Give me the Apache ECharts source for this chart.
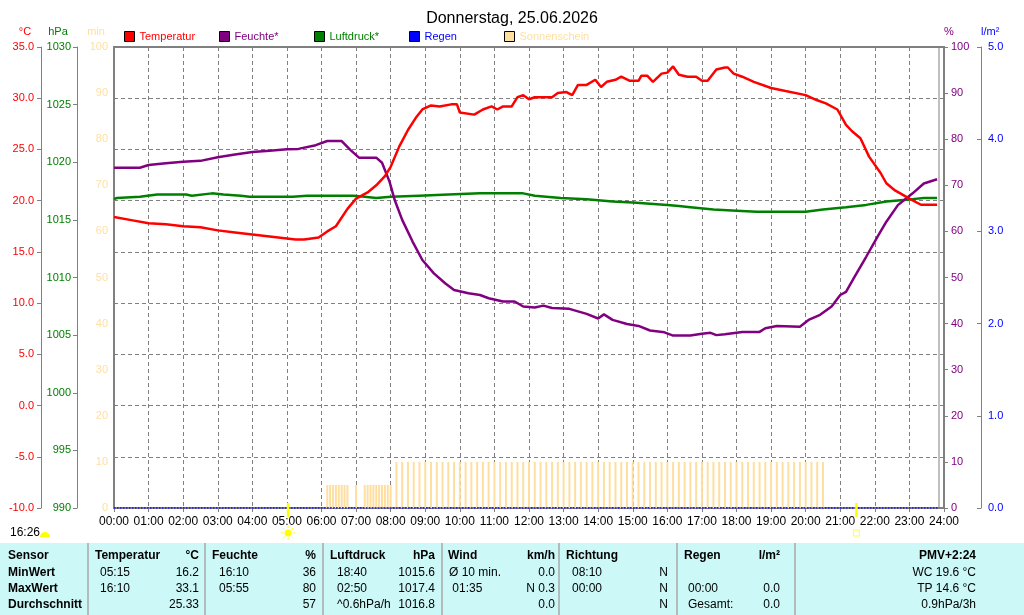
<!DOCTYPE html>
<html>
<head>
    <meta charset="utf-8">
    <title>Donnerstag, 25.06.2026</title>
    <style type="text/css">
        html, body {
            margin: 0;
            padding: 0;
            background: #fff;
        }
        #main {
            width: 1024px;
            height: 615px;
        }
    </style>
    <script src="https://cdn.jsdelivr.net/npm/echarts@6/dist/echarts.min.js"></script>
</head>
<body>
<div id="main"></div>
<script type="text/javascript">
    var tempTimes = ['00:00','00:30','01:00','01:30','02:00','02:30','03:00','03:30','04:00','04:30',
        '05:00','05:15','05:30','05:55','06:10','06:25','06:45','07:00','07:20','07:35','07:50','08:00',
        '08:15','08:30','08:45','08:55','09:10','09:25','09:45','09:55','10:00','10:25','10:40','10:55',
        '11:05','11:15','11:30','11:40','11:50','12:00','12:10','12:40','12:50','13:05','13:15','13:25',
        '13:40','13:55','14:05','14:15','14:30','14:40','14:55','15:10','15:15','15:25','15:35','15:50',
        '16:00','16:10','16:20','16:35','16:50','17:00','17:10','17:25','17:40','17:45','17:55','18:10',
        '18:30','19:00','19:25','20:00','20:20','20:35','20:55','21:10','21:20','21:35','21:50','22:10',
        '22:20','22:35','23:00','23:20','23:48'];
    var tempValues = [18.4,18.1,17.8,17.7,17.5,17.4,17.1,16.9,16.7,16.5,
        16.3,16.2,16.2,16.4,17.0,17.5,19.2,20.2,20.8,21.5,22.4,23.3,
        25.3,26.9,28.2,28.9,29.3,29.2,29.4,29.4,28.6,28.4,28.9,29.2,
        28.9,29.2,29.2,30.1,30.3,29.9,30.1,30.1,30.5,30.6,30.3,31.3,
        31.3,31.8,31.1,31.6,31.8,32.1,31.7,31.7,32.2,32.2,31.6,32.4,
        32.5,33.1,32.3,32.1,32.1,31.7,31.7,32.8,33.0,33.0,32.4,32.1,
        31.6,31.0,30.7,30.3,29.8,29.5,28.9,27.4,26.8,26.1,24.3,22.7,
        21.7,21.0,20.2,19.6,19.6];

    var humTimes = ['00:00','00:45','01:00','01:30','02:00','02:30','03:00','03:30','04:00','04:30',
        '05:00','05:20','05:50','06:10','06:35','06:50','07:05','07:35','07:45','07:58','08:07','08:20',
        '08:38','08:55','09:15','09:35','09:50','10:15','10:35','10:50','11:15','11:35','11:50','12:10',
        '12:25','12:40','13:10','13:40','14:00','14:10','14:25','14:50','15:10','15:30','15:55','16:10',
        '16:40','17:00','17:15','17:25','17:40','18:10','18:40','18:50','19:10','19:50','20:05','20:25',
        '20:45','21:00','21:10','21:25','21:45','22:05','22:20','22:40','23:05','23:25','23:48'];
    var humValues = [73.8,73.8,74.4,74.8,75.1,75.3,76.1,76.7,77.2,77.5,
        77.8,77.9,78.7,79.6,79.6,77.7,76.0,76.0,74.9,70.8,66.8,62.5,
        57.8,53.8,50.9,48.7,47.3,46.6,46.2,45.5,44.8,44.8,43.7,43.5,
        43.9,43.4,43.2,42.1,41.1,42.0,40.8,39.9,39.5,38.5,38.1,37.4,
        37.4,37.8,38.0,37.5,37.7,38.2,38.2,39.0,39.5,39.3,40.8,41.9,
        43.7,46.2,46.9,50.2,54.5,58.9,62.1,65.7,68.2,70.4,71.3];

    var pressTimes = ['00:00','00:05','00:45','01:15','02:05','02:15','02:50','03:10','03:40','03:55',
        '05:10','05:35','06:55','07:15','07:35','08:00','08:50','09:40','10:35','11:50','12:10','12:55',
        '13:40','14:25','15:00','16:00','16:20','16:40','17:20','18:00','18:35','20:00','20:30','21:10',
        '21:45','22:20','23:05','23:25','23:48'];
    var pressValues = [1016.8,1016.9,1017.0,1017.2,1017.2,1017.1,1017.3,1017.2,1017.1,1017.0,
        1017.0,1017.1,1017.1,1017.0,1016.9,1017.0,1017.1,1017.2,1017.3,1017.3,1017.1,1016.9,
        1016.8,1016.6,1016.5,1016.3,1016.2,1016.1,1015.9,1015.8,1015.7,1015.7,1015.9,1016.1,
        1016.3,1016.6,1016.8,1016.9,1016.9];

    var rainTimes = ['00:00','23:50'];
    var rainValues = [0.0, 0.0];

    var sunTimes = ['06:10','06:15','06:20','06:25','06:30','06:35','06:40','06:45','07:00',
        '07:15','07:20','07:25','07:30','07:35','07:40','07:45','07:50','07:55','08:00',
        '08:10','08:20','08:30','08:40','08:50','09:00','09:10','09:20','09:30','09:40','09:50',
        '10:00','10:10','10:20','10:30','10:40','10:50','11:00','11:10','11:20','11:30','11:40','11:50',
        '12:00','12:10','12:20','12:30','12:40','12:50','13:00','13:10','13:20','13:30','13:40','13:50',
        '14:00','14:10','14:20','14:30','14:40','14:50','15:00','15:10','15:20','15:30','15:40','15:50',
        '16:00','16:10','16:20','16:30','16:40','16:50','17:00','17:10','17:20','17:30','17:40','17:50',
        '18:00','18:10','18:20','18:30','18:40','18:50','19:00','19:10','19:20','19:30','19:40','19:50',
        '20:00','20:10','20:20','20:30'];
    var sunValues = [5,5,5,5,5,5,5,5,5,
        5,5,5,5,5,5,5,5,5,5,
        10,10,10,10,10,10,10,10,10,10,10,
        10,10,10,10,10,10,10,10,10,10,10,10,
        10,10,10,10,10,10,10,10,10,10,10,10,
        10,10,10,10,10,10,10,10,10,10,10,10,
        10,10,10,10,10,10,10,10,10,10,10,10,
        10,10,10,10,10,10,10,10,10,10,10,10,
        10,10,10,10];

    var sunEvents = ['05:02', '21:28'];
    var dayLength = '16:26';
    var titleText = 'Donnerstag, 25.06.2026';
    var unitNames = ['°C', 'hPa', 'min', '%', 'l/m²'];

    // Tabelle unten
    var tableHeader = ['Sensor','Temperatur','°C','Feuchte','%','Luftdruck','hPa','Wind','km/h','Richtung','','Regen','l/m²','PMV+2:24'];
    var tableRows = [
        ['MinWert','05:15','16.2','16:10','36','18:40','1015.6','Ø 10 min.','0.0','08:10','N','','','WC 19.6 °C'],
        ['MaxWert','16:10','33.1','05:55','80','02:50','1017.4',' 01:35','N 0.3','00:00','N','00:00','0.0','TP 14.6 °C'],
        ['Durchschnitt','','25.33','','57','^0.6hPa/h','1016.8','','0.0','','N','Gesamt:','0.0','0.9hPa/3h']
    ];

    var FONT = '"Liberation Sans", Arial, sans-serif';
    var GRAY = '#808080';

    function toMin(t) {
        var p = t.split(':');
        return (+p[0]) * 60 + (+p[1]);
    }
    function pairs(times, values) {
        return times.map(function (t, i) { return [toMin(t), values[i]]; });
    }
    function pad(n) { return (n < 10 ? '0' : '') + n; }

    var myChart = echarts.init(document.getElementById('main'));

    var legendDefs = [
        ['Temperatur', 124, '#FF0000'],
        ['Feuchte*', 219, '#800080'],
        ['Luftdruck*', 314, '#008000'],
        ['Regen', 409, '#0000FF'],
        ['Sonnenschein', 504, '#FFDFA0']
    ];

    function yAxisBase(color) {
        return {
            type: 'value',
            axisLine: { show: true, onZero: false, lineStyle: { color: GRAY, width: 1 } },
            axisTick: { show: true, length: 4, lineStyle: { color: GRAY } },
            axisLabel: {
                color: color, fontFamily: FONT, fontSize: 11, margin: 7,
                formatter: function (v) { return String(v); }
            },
            splitLine: { show: false }
        };
    }

    var yTemp = yAxisBase('#FF0000');
    yTemp.position = 'left'; yTemp.offset = 73;
    yTemp.min = -10; yTemp.max = 35; yTemp.interval = 5;
    yTemp.axisLabel.formatter = function (v) { return v.toFixed(1); };
    yTemp.splitLine = { show: true, lineStyle: { color: GRAY, type: [4, 3], width: 1 } };

    var yPress = yAxisBase('#008000');
    yPress.position = 'left'; yPress.offset = 37;
    yPress.min = 990; yPress.max = 1030; yPress.interval = 5;
    yPress.axisLabel.margin = 6;

    var ySun = yAxisBase('#FFDFA0');
    ySun.position = 'left'; ySun.offset = 0;
    ySun.min = 0; ySun.max = 100; ySun.interval = 10;
    ySun.axisLine = { show: true, onZero: false, lineStyle: { color: GRAY, width: 2 } };
    ySun.axisTick = { show: false };
    ySun.axisLabel.margin = 6;

    var yHum = yAxisBase('#800080');
    yHum.position = 'right'; yHum.offset = 0;
    yHum.min = 0; yHum.max = 100; yHum.interval = 10;
    yHum.axisLine = { show: true, onZero: false, lineStyle: { color: GRAY, width: 2 } };

    var yRain = yAxisBase('#0000FF');
    yRain.position = 'right'; yRain.offset = 37;
    yRain.min = 0; yRain.max = 5; yRain.interval = 1;
    yRain.axisTick = { show: true, inside: true, length: 4, lineStyle: { color: GRAY } };
    yRain.axisLabel.formatter = function (v) { return v.toFixed(1); };

    var option = {
        backgroundColor: '#fff',
        animation: false,
        title: {
            text: titleText,
            left: 'center',
            top: 6,
            textStyle: { color: '#000', fontFamily: FONT, fontSize: 16, fontWeight: 'normal' }
        },
        legend: legendDefs.map(function (d) {
            return {
                data: [d[0]],
                left: d[1],
                top: 31,
                icon: 'rect',
                itemWidth: 10,
                itemHeight: 10,
                padding: 0,
                selectedMode: false,
                itemStyle: { borderColor: '#000', borderWidth: 1 },
                textStyle: { color: d[2], fontFamily: FONT, fontSize: 11 }
            };
        }),
        grid: {
            left: 114,
            right: 80,
            top: 47,
            bottom: 107,
            show: true,
            borderColor: GRAY,
            borderWidth: 2,
            backgroundColor: 'transparent'
        },
        xAxis: {
            type: 'value',
            min: 0,
            max: 1440,
            interval: 60,
            axisLine: { show: true, onZero: false, lineStyle: { color: GRAY, width: 2 } },
            axisTick: { show: true, length: 4, lineStyle: { color: GRAY } },
            axisLabel: {
                color: '#000',
                fontFamily: FONT,
                fontSize: 12,
                margin: 8,
                formatter: function (v) { return pad(Math.round(v / 60)) + ':00'; }
            },
            splitLine: { show: true, lineStyle: { color: GRAY, type: [4, 3], width: 1 } }
        },
        yAxis: [yTemp, yPress, ySun, yHum, yRain],
        series: [
            {
                name: 'Sonnenschein',
                type: 'bar',
                yAxisIndex: 2,
                barWidth: 2,
                itemStyle: { color: '#FFDFA0' },
                data: pairs(sunTimes, sunValues),
                z: 1
            },
            {
                name: 'Regen',
                type: 'line',
                yAxisIndex: 4,
                symbol: 'none',
                lineStyle: { color: '#0000FF', width: 1.5, type: 'dotted' },
                itemStyle: { color: '#0000FF' },
                data: pairs(rainTimes, rainValues),
                z: 3
            },
            {
                name: 'Luftdruck*',
                type: 'line',
                yAxisIndex: 1,
                symbol: 'none',
                lineStyle: { color: '#008000', width: 2.5 },
                itemStyle: { color: '#008000' },
                data: pairs(pressTimes, pressValues),
                z: 4
            },
            {
                name: 'Feuchte*',
                type: 'line',
                yAxisIndex: 3,
                symbol: 'none',
                lineStyle: { color: '#800080', width: 2.5 },
                itemStyle: { color: '#800080' },
                data: pairs(humTimes, humValues),
                z: 5
            },
            {
                name: 'Temperatur',
                type: 'line',
                yAxisIndex: 0,
                symbol: 'none',
                lineStyle: { color: '#FF0000', width: 2.5 },
                itemStyle: { color: '#FF0000' },
                data: pairs(tempTimes, tempValues),
                z: 6
            }
        ]
    };

    myChart.setOption(option);

    // Zusatzgrafik: Achseneinheiten, Sonnenauf-/untergang, Rahmen, Tabelle
    var g = [];
    var plotBottom = myChart.convertToPixel({ yAxisIndex: 0 }, -10);
    var plotTop = myChart.convertToPixel({ yAxisIndex: 0 }, 35);
    var xEnd = myChart.convertToPixel({ xAxisIndex: 0 }, 1440);

    function txt(text, x, y, color, align, font) {
        g.push({ type: 'text', z: 10, style: {
            text: text, x: x, y: y, fill: color,
            font: font || ('11px ' + FONT),
            align: align, verticalAlign: 'middle',
            textAlign: align, textVerticalAlign: 'middle' } });
    }

    // Einheiten über den Achsen
    txt(unitNames[0], 25, 32, '#FF0000', 'center');
    txt(unitNames[1], 58, 32, '#008000', 'center');
    txt(unitNames[2], 96, 32, '#FFDFA0', 'center');
    txt(unitNames[3], 949, 32, '#800080', 'center');
    txt(unitNames[4], 981, 32, '#0000FF', 'left');

    g.push({ type: 'line', shape: { x1: xEnd - 5, y1: plotTop, x2: xEnd - 5, y2: plotBottom },
        style: { stroke: GRAY, lineWidth: 1 }, z: 10 });

    var xRise = myChart.convertToPixel({ xAxisIndex: 0 }, toMin(sunEvents[0]));
    var xSet = myChart.convertToPixel({ xAxisIndex: 0 }, toMin(sunEvents[1]));
    [xRise, xSet].forEach(function (x) {
        g.push({ type: 'line', shape: { x1: x, y1: plotBottom - 5, x2: x, y2: plotBottom + 9 },
            style: { stroke: '#FFFF00', lineWidth: 2.5 }, z: 10 });
    });
    g.push({ type: 'circle', shape: { cx: xRise, cy: 533, r: 3.5 }, style: { fill: '#FFFF00' }, z: 10 });
    for (var k = 0; k < 8; k++) {
        var a = k * Math.PI / 4;
        g.push({ type: 'line', shape: {
            x1: xRise + Math.cos(a) * 5, y1: 533 + Math.sin(a) * 5,
            x2: xRise + Math.cos(a) * 7, y2: 533 + Math.sin(a) * 7 },
            style: { stroke: '#FFFF00', lineWidth: 1 }, z: 10 });
    }
    g.push({ type: 'rect', shape: { x: xSet - 3, y: 530, width: 6, height: 6 },
        style: { fill: 'none', stroke: '#FFFF40', lineWidth: 1 }, z: 10 });
    txt(dayLength, 10, 533, '#000', 'left', '12px ' + FONT);
    g.push({ type: 'sector', shape: { cx: 45, cy: 537, r: 5, startAngle: Math.PI, endAngle: 2 * Math.PI },
        style: { fill: '#FFFF00' }, z: 10 });

    // Tabelle
    g.push({ type: 'rect', shape: { x: 0, y: 543, width: 1024, height: 72 },
        style: { fill: '#CCF8F8' }, z: 1 });
    [88, 205, 323, 442, 559, 677, 795].forEach(function (x) {
        g.push({ type: 'line', shape: { x1: x, y1: 543, x2: x, y2: 615 },
            style: { stroke: '#A8A8A8', lineWidth: 1.5 }, z: 2 });
    });
    var headX = [8, 95, 199, 212, 316, 330, 435, 448, 555, 566, 668, 684, 780, 976];
    var colX = [8, 100, 199, 219, 316, 337, 435, 449, 555, 572, 668, 688, 780, 976];
    var colAlign = ['left','left','right','left','right','left','right','left','right','left','right','left','right','right'];
    var rowY = [556, 572.5, 589, 605];
    function cell(text, x, y, align, bold) {
        if (!text) return;
        txt(text, x, y, '#000', align, (bold ? 'bold ' : '') + '12px ' + FONT);
    }
    tableHeader.forEach(function (t, i) { cell(t, headX[i], rowY[0], colAlign[i], true); });
    tableRows.forEach(function (row, r) {
        row.forEach(function (t, i) {
            cell(t, colX[i], rowY[r + 1], colAlign[i], i === 0);
        });
    });

    myChart.setOption({ graphic: { elements: g } });
</script>
</body>
</html>
